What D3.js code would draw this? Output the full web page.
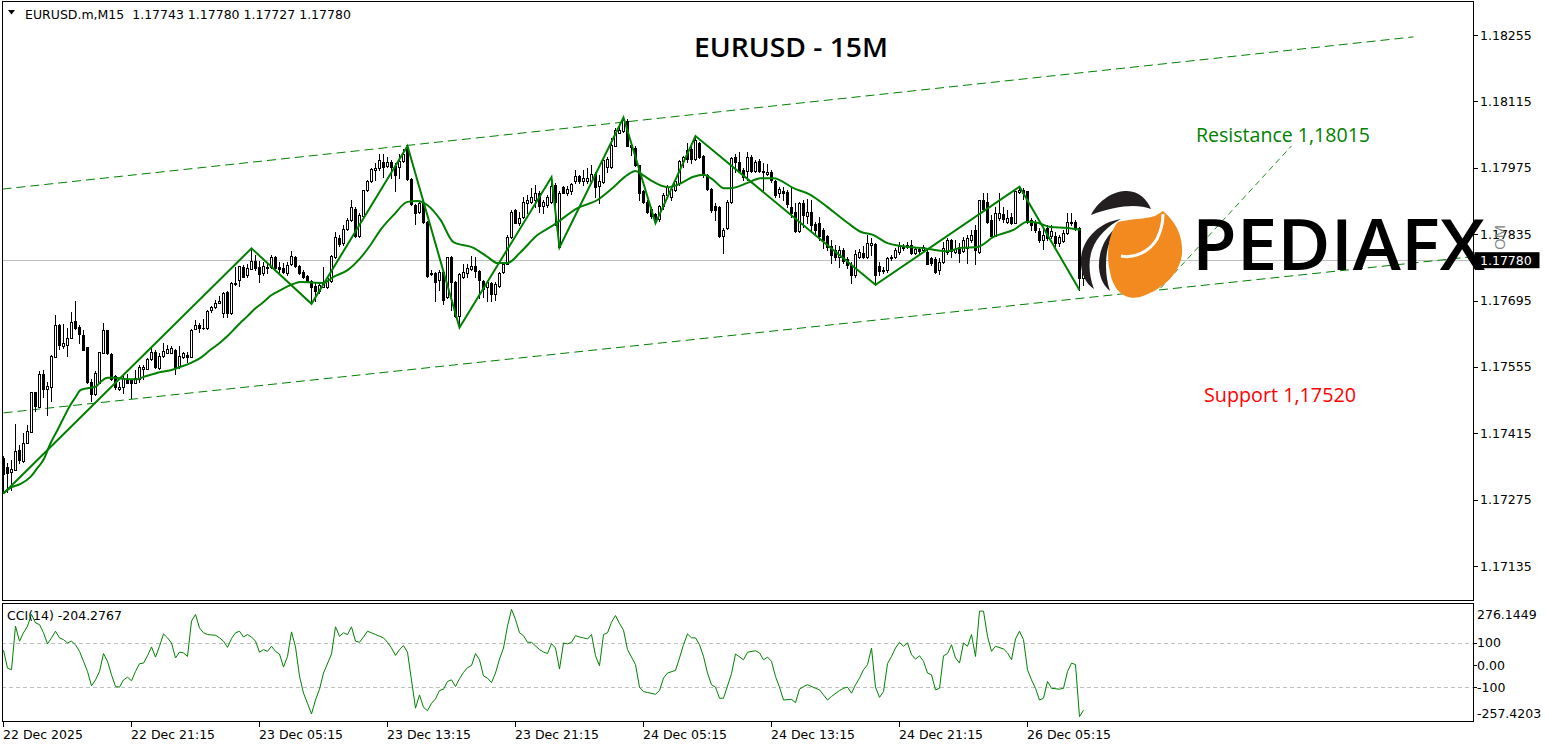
<!DOCTYPE html>
<html><head><meta charset="utf-8">
<script src="https://cdnjs.cloudflare.com/ajax/libs/d3/7.8.5/d3.min.js"></script>
<style>html,body{margin:0;padding:0;background:#fff;overflow:hidden}</style>
</head><body>
<svg id="c" width="1545" height="749"></svg>
<script>
// ---------- DATA (EURUSD.m M15) ----------
const opens=[1.17362,1.17343,1.17334,1.17338,1.17380,1.17357,1.17394,1.17418,1.17501,1.17471,
1.17540,1.17508,1.17513,1.17575,1.17643,1.17599,1.17601,1.17615,1.17652,1.17640,
1.17622,1.17596,1.17524,1.17498,1.17522,1.17585,1.17633,1.17582,1.17536,1.17508,
1.17513,1.17529,1.17527,1.17522,1.17529,1.17550,1.17550,1.17572,1.17587,1.17552,
1.17577,1.17585,1.17585,1.17590,1.17557,1.17575,1.17579,1.17576,1.17634,1.17643,
1.17638,1.17636,1.17674,1.17681,1.17690,1.17668,1.17713,1.17668,1.17730,1.17738,
1.17766,1.17749,1.17761,1.17778,1.17766,1.17752,1.17763,1.17765,1.17787,1.17766,
1.17764,1.17752,1.17771,1.17787,1.17768,1.17756,1.17747,1.17737,1.17726,1.17714,
1.17724,1.17724,1.17737,1.17786,1.17826,1.17816,1.17845,1.17865,1.17889,1.17830,
1.17873,1.17928,1.17946,1.17970,1.17974,1.17988,1.17979,1.17988,1.17979,1.17976,
1.17990,1.18016,1.17951,1.17896,1.17882,1.17901,1.17861,1.17751,1.17754,1.17738,
1.17756,1.17703,1.17787,1.17735,1.17662,1.17745,1.17754,1.17761,1.17768,1.17758,
1.17737,1.17723,1.17731,1.17709,1.17726,1.17756,1.17773,1.17828,1.17886,1.17859,
1.17872,1.17901,1.17903,1.17907,1.17921,1.17894,1.17896,1.17903,1.17939,1.17808,
1.17934,1.17921,1.17927,1.17946,1.17958,1.17947,1.17948,1.17948,1.17962,1.17937,
1.17944,1.17977,1.17977,1.18021,1.18049,1.18053,1.18074,1.18023,1.18016,1.17981,
1.17927,1.17903,1.17889,1.17877,1.17866,1.17894,1.17918,1.17914,1.17928,1.17942,
1.17989,1.18012,1.18014,1.17993,1.18027,1.18000,1.17960,1.17930,1.17894,1.17893,
1.17831,1.17847,1.17903,1.17997,1.17988,1.17970,1.17969,1.17997,1.17969,1.17990,
1.17969,1.17962,1.17966,1.17948,1.17921,1.17927,1.17923,1.17893,1.17882,1.17842,
1.17900,1.17873,1.17882,1.17856,1.17858,1.17844,1.17830,1.17810,1.17802,1.17787,
1.17802,1.17782,1.17770,1.17749,1.17787,1.17796,1.17787,1.17812,1.17814,1.17768,
1.17758,1.17759,1.17784,1.17787,1.17798,1.17810,1.17807,1.17812,1.17796,1.17803,
1.17802,1.17798,1.17784,1.17782,1.17759,1.17777,1.17798,1.17823,1.17798,1.17807,
1.17800,1.17805,1.17823,1.17844,1.17798,1.17907,1.17903,1.17865,1.17831,1.17868,
1.17877,1.17861,1.17872,1.17859,1.17924,1.17928,1.17925,1.17865,1.17861,1.17842,
1.17823,1.17847,1.17830,1.17830,1.17816,1.17821,1.17838,1.17861,1.17861,1.17847,
1.17743];
const highs=[1.17366,1.17352,1.17358,1.17434,1.17390,1.17415,1.17432,1.17503,1.17503,1.17547,
1.17548,1.17524,1.17580,1.17664,1.17645,1.17645,1.17636,1.17671,1.17694,1.17643,
1.17633,1.17596,1.17529,1.17547,1.17587,1.17647,1.17633,1.17585,1.17538,1.17524,
1.17541,1.17541,1.17529,1.17548,1.17559,1.17559,1.17573,1.17594,1.17591,1.17585,
1.17605,1.17601,1.17598,1.17592,1.17599,1.17587,1.17587,1.17634,1.17654,1.17647,
1.17657,1.17675,1.17683,1.17696,1.17705,1.17712,1.17714,1.17733,1.17765,1.17768,
1.17770,1.17773,1.17805,1.17791,1.17779,1.17777,1.17777,1.17791,1.17789,1.17777,
1.17775,1.17777,1.17800,1.17789,1.17770,1.17759,1.17749,1.17738,1.17731,1.17731,
1.17766,1.17745,1.17791,1.17840,1.17833,1.17854,1.17870,1.17906,1.17893,1.17879,
1.17929,1.17949,1.17974,1.17984,1.18004,1.18004,1.17998,1.17991,1.17984,1.18005,
1.18014,1.18021,1.17953,1.17899,1.17903,1.17903,1.17863,1.17759,1.17756,1.17759,
1.17759,1.17787,1.17789,1.17737,1.17754,1.17773,1.17773,1.17789,1.17787,1.17759,
1.17738,1.17735,1.17735,1.17735,1.17756,1.17777,1.17833,1.17886,1.17887,1.17882,
1.17914,1.17917,1.17932,1.17939,1.17925,1.17907,1.17918,1.17955,1.17942,1.17925,
1.17937,1.17937,1.17942,1.17970,1.17960,1.17970,1.17974,1.17981,1.17967,1.17960,
1.17995,1.17998,1.18037,1.18058,1.18067,1.18081,1.18077,1.18027,1.18020,1.17981,
1.17928,1.17907,1.17892,1.17879,1.17896,1.17921,1.17939,1.17932,1.17949,1.17991,
1.18000,1.18027,1.18027,1.18042,1.18030,1.18002,1.17962,1.17932,1.17900,1.17894,
1.17847,1.17906,1.17997,1.18005,1.18009,1.17974,1.18009,1.18002,1.17991,1.17993,
1.17984,1.17983,1.17970,1.17950,1.17934,1.17935,1.17928,1.17935,1.17900,1.17903,
1.17907,1.17910,1.17907,1.17861,1.17872,1.17847,1.17833,1.17823,1.17812,1.17810,
1.17805,1.17787,1.17777,1.17802,1.17803,1.17809,1.17833,1.17826,1.17816,1.17777,
1.17766,1.17787,1.17791,1.17805,1.17819,1.17814,1.17819,1.17823,1.17807,1.17805,
1.17812,1.17802,1.17787,1.17787,1.17784,1.17819,1.17826,1.17824,1.17823,1.17816,
1.17828,1.17833,1.17844,1.17854,1.17908,1.17921,1.17921,1.17875,1.17893,1.17921,
1.17893,1.17886,1.17879,1.17927,1.17935,1.17932,1.17927,1.17868,1.17865,1.17847,
1.17847,1.17854,1.17854,1.17840,1.17833,1.17844,1.17879,1.17879,1.17865,1.17850,
1.17780];
const lows=[1.17288,1.17292,1.17295,1.17338,1.17352,1.17355,1.17394,1.17418,1.17461,1.17471,
1.17492,1.17454,1.17484,1.17575,1.17592,1.17594,1.17577,1.17615,1.17634,1.17606,
1.17591,1.17520,1.17482,1.17496,1.17520,1.17585,1.17582,1.17527,1.17508,1.17506,
1.17499,1.17520,1.17489,1.17520,1.17524,1.17529,1.17550,1.17570,1.17552,1.17550,
1.17575,1.17584,1.17584,1.17540,1.17552,1.17573,1.17566,1.17576,1.17634,1.17629,
1.17634,1.17634,1.17671,1.17679,1.17689,1.17660,1.17660,1.17667,1.17728,1.17726,
1.17745,1.17745,1.17761,1.17759,1.17733,1.17749,1.17752,1.17763,1.17759,1.17756,
1.17752,1.17749,1.17770,1.17766,1.17751,1.17742,1.17735,1.17688,1.17695,1.17710,
1.17723,1.17721,1.17734,1.17784,1.17809,1.17812,1.17844,1.17862,1.17828,1.17828,
1.17872,1.17927,1.17944,1.17949,1.17970,1.17956,1.17976,1.17953,1.17925,1.17953,
1.17988,1.17949,1.17896,1.17856,1.17880,1.17858,1.17745,1.17749,1.17693,1.17717,
1.17688,1.17700,1.17675,1.17661,1.17638,1.17742,1.17745,1.17759,1.17745,1.17700,
1.17703,1.17693,1.17693,1.17696,1.17724,1.17754,1.17772,1.17826,1.17858,1.17854,
1.17870,1.17880,1.17900,1.17893,1.17882,1.17879,1.17893,1.17901,1.17854,1.17807,
1.17921,1.17918,1.17920,1.17942,1.17942,1.17939,1.17942,1.17942,1.17914,1.17900,
1.17942,1.17967,1.17974,1.18020,1.18048,1.18051,1.18020,1.18002,1.17979,1.17907,
1.17900,1.17879,1.17868,1.17858,1.17863,1.17889,1.17914,1.17907,1.17927,1.17939,
1.17977,1.17988,1.17984,1.17991,1.17995,1.17956,1.17928,1.17882,1.17865,1.17828,
1.17796,1.17845,1.17901,1.17967,1.17967,1.17949,1.17949,1.17967,1.17965,1.17967,
1.17928,1.17960,1.17945,1.17914,1.17914,1.17907,1.17893,1.17872,1.17840,1.17840,
1.17851,1.17858,1.17840,1.17833,1.17823,1.17805,1.17802,1.17775,1.17780,1.17766,
1.17775,1.17763,1.17731,1.17745,1.17784,1.17784,1.17784,1.17791,1.17728,1.17749,
1.17752,1.17756,1.17780,1.17784,1.17794,1.17802,1.17805,1.17794,1.17794,1.17796,
1.17798,1.17772,1.17770,1.17754,1.17751,1.17775,1.17794,1.17787,1.17796,1.17777,
1.17798,1.17775,1.17819,1.17772,1.17796,1.17886,1.17859,1.17830,1.17830,1.17865,
1.17861,1.17858,1.17856,1.17858,1.17921,1.17910,1.17858,1.17844,1.17840,1.17819,
1.17803,1.17823,1.17826,1.17810,1.17810,1.17819,1.17835,1.17854,1.17844,1.17717,
1.17727];
const closes=[1.17330,1.17332,1.17339,1.17378,1.17359,1.17394,1.17420,1.17501,1.17473,1.17540,
1.17508,1.17515,1.17577,1.17643,1.17601,1.17605,1.17615,1.17649,1.17638,1.17624,
1.17591,1.17523,1.17498,1.17543,1.17586,1.17633,1.17584,1.17529,1.17513,1.17513,
1.17531,1.17522,1.17520,1.17532,1.17554,1.17555,1.17572,1.17586,1.17555,1.17578,
1.17589,1.17593,1.17595,1.17555,1.17577,1.17584,1.17575,1.17633,1.17643,1.17636,
1.17636,1.17673,1.17681,1.17689,1.17693,1.17710,1.17668,1.17731,1.17731,1.17768,
1.17745,1.17763,1.17778,1.17763,1.17750,1.17768,1.17766,1.17787,1.17763,1.17761,
1.17756,1.17770,1.17789,1.17768,1.17752,1.17745,1.17737,1.17724,1.17714,1.17728,
1.17735,1.17742,1.17789,1.17828,1.17814,1.17845,1.17865,1.17892,1.17830,1.17875,
1.17928,1.17946,1.17972,1.17974,1.17991,1.17977,1.17988,1.17977,1.17960,1.17990,
1.18005,1.17951,1.17899,1.17880,1.17901,1.17861,1.17747,1.17754,1.17735,1.17756,
1.17696,1.17786,1.17733,1.17662,1.17751,1.17756,1.17763,1.17768,1.17758,1.17738,
1.17719,1.17733,1.17709,1.17730,1.17754,1.17773,1.17828,1.17882,1.17859,1.17870,
1.17903,1.17906,1.17914,1.17922,1.17894,1.17903,1.17914,1.17937,1.17903,1.17922,
1.17922,1.17930,1.17941,1.17958,1.17948,1.17954,1.17953,1.17962,1.17935,1.17948,
1.17991,1.17993,1.18024,1.18055,1.18055,1.18076,1.18021,1.18018,1.17981,1.17921,
1.17903,1.17882,1.17873,1.17863,1.17894,1.17918,1.17935,1.17930,1.17946,1.17989,
1.17998,1.17993,1.17993,1.18034,1.17997,1.17960,1.17930,1.17885,1.17885,1.17830,
1.17844,1.17903,1.17995,1.17988,1.17969,1.17955,1.17997,1.17969,1.17988,1.17969,
1.17965,1.17967,1.17950,1.17918,1.17930,1.17921,1.17898,1.17879,1.17842,1.17900,
1.17875,1.17882,1.17854,1.17844,1.17830,1.17823,1.17807,1.17791,1.17786,1.17802,
1.17779,1.17770,1.17749,1.17794,1.17798,1.17787,1.17816,1.17816,1.17749,1.17758,
1.17759,1.17784,1.17787,1.17802,1.17811,1.17805,1.17812,1.17796,1.17803,1.17800,
1.17807,1.17773,1.17775,1.17756,1.17777,1.17805,1.17823,1.17800,1.17803,1.17796,
1.17823,1.17826,1.17833,1.17802,1.17907,1.17889,1.17861,1.17831,1.17879,1.17880,
1.17866,1.17870,1.17858,1.17925,1.17929,1.17921,1.17861,1.17854,1.17844,1.17823,
1.17833,1.17826,1.17842,1.17816,1.17828,1.17838,1.17861,1.17858,1.17847,1.17743,
1.17780];

// moving average (bar position, price)
const maBars=[0,1.75,4.25,6.75,8.5,10,11.75,13.5,15,16.75,18,19.25,21,23,24.25,26,28,31,33.5,35,37.5,39.25,41.75,44.25,46.75,49.25,51.75,54.25,56,57.5,59.25,61,62.5,65,66.75,69.25,72.5,74.25,80,82.5,86,89.25,91.75,94.25,97.5,101,103.5,106,109.25,112.5,117.5,121,123.5,126,129.25,133.5,137.5,143.5,148.5,152.5,156,158,159.75,162.5,166,168.5,172.5,175,177.5,180,181.75,186,189.25,192.5,197.5,201.75,206,211,214.25,217.5,221,224.25,229.25,232.5,236,239.25,243.5,247.5,252.5,256,258.5,261.75,266,269.25];
const maValues=[1.17289,1.17300,1.17308,1.17323,1.17342,1.17359,1.17394,1.17422,1.17447,1.17475,1.17491,1.17506,1.17510,1.17513,1.17523,1.17532,1.17532,1.17529,1.17529,1.17534,1.17540,1.17544,1.17548,1.17555,1.17563,1.17574,1.17591,1.17607,1.17620,1.17633,1.17648,1.17662,1.17675,1.17692,1.17705,1.17717,1.17730,1.17734,1.17732,1.17745,1.17759,1.17785,1.17812,1.17844,1.17875,1.17903,1.17905,1.17896,1.17865,1.17818,1.17806,1.17787,1.17774,1.17774,1.17797,1.17833,1.17854,1.17890,1.17907,1.17934,1.17960,1.17968,1.17960,1.17945,1.17934,1.17939,1.17956,1.17960,1.17949,1.17932,1.17932,1.17943,1.17953,1.17953,1.17932,1.17918,1.17892,1.17859,1.17840,1.17833,1.17816,1.17810,1.17806,1.17802,1.17799,1.17806,1.17808,1.17829,1.17844,1.17861,1.17859,1.17850,1.17848,1.17844];

// zigzag pivots
const zzBars=[0,62,77,101,114,137,139,155,163,173,218,254,269];
const zzPrices=[1.17288,1.17805,1.17688,1.18021,1.17638,1.17955,1.17807,1.18081,1.17858,1.18042,1.17728,1.17935,1.17717];

// CCI(14)
const cciBars=[0,1,2,3,4,5,6,7,8,9,10,11,12,13,14,15,16,17,18,19,20,21,22,23,24,25,26,27,28,29,30,31,32,33,34,35,36,37,38,39,40,41,42,43,44,45,46,47,48,49,50,51,52,53,54,55,56,57,58,59,60,61,62,63,64,65,66,67,68,69,70,71,72,73,74,75,76,77,78,79,80,82,83,84,85,86,87,88,89,90,91,92,93,95,96,97,98,99,100,101,103,104,105,106,107,108,109,110,111,112,113,114,115,116,117,118,119,120,121,122,123,124,125,126,127,128,129,130,131,132,134,135,136,137,138,139,140,141,142,143,144,145,146,147,148,149,150,151,152,153,154,155,156,158,159,160,161,163,164,165,166,168,169,170,171,172,173,174,175,176,177,178,179,180,182,183,185,186,188,189,190,191,192,193,194,195,197,198,199,200,201,203,204,205,206,207,209,210,211,212,213,214,215,216,217,218,219,220,221,222,223,224,225,226,227,228,229,230,231,232,233,234,235,236,237,238,239,240,241,242,243,244,245,246,247,248,250,251,252,253,254,255,256,257,258,259,260,261,262,264,265,266,267,268,269,270];
const cciValues=[67,-14,-21,176,108,146,176,229,191,183,146,96,123,153,123,115,100,108,92,62,17,-29,-94,-67,-29,52,17,-44,-97,-100,-67,-55,-71,-29,6,9,42,82,36,85,141,123,100,32,59,55,39,199,229,168,146,138,136,135,123,108,80,120,146,153,127,138,127,108,58,70,62,85,62,50,-9,39,150,82,-50,-127,-173,-221,-158,-109,-36,50,173,130,146,138,173,108,103,127,153,146,138,123,103,77,44,70,88,58,-195,-135,-191,-206,-173,-153,-115,-109,-74,-67,-97,-62,-33,-12,-2,52,24,-49,-59,-79,-36,27,77,176,252,206,146,133,103,103,70,59,52,97,77,-18,100,96,103,133,127,123,118,138,42,-3,138,146,194,224,188,158,70,2,-100,-120,-124,-132,-115,-59,-36,-24,32,92,141,123,123,92,39,-36,-89,-100,-150,-150,-39,50,24,58,65,55,24,36,17,-52,-100,-158,-155,-170,-109,-97,-89,-105,-112,-135,-158,-142,-115,-105,-100,-127,-89,-59,-21,2,77,-100,-146,-120,6,39,77,103,85,100,47,27,42,17,-36,-44,-112,-105,42,52,92,32,9,100,85,138,39,244,244,130,62,85,73,55,24,118,153,115,-21,-67,-105,-158,-150,-74,-105,-109,-105,-29,9,2,-233,-204.2767];

// trend channel and drawn line (bar position, price)
const upperBars=[-0.25,352.5], upperPrices=[1.17930,1.18251];
const lowerBars=[0,366.75],   lowerPrices=[1.17458,1.17787];
const leaderBars=[289.25,322], leaderPrices=[1.17721,1.18021];

const priceTicks=[1.18255,1.18115,1.17975,1.17835,1.17695,1.17555,1.17415,1.17275,1.17135];
const cciTicks=[276.1449,100,0,-100,-257.4203];
const cciTickLabels=["276.1449","100","0.00","-100","-257.4203"];
const timeBars=[0,32,64,96,128,160,192,224,256];
const timeLabels=["22 Dec 2025","22 Dec 21:15","23 Dec 05:15","23 Dec 13:15","23 Dec 21:15","24 Dec 05:15","24 Dec 13:15","24 Dec 21:15","26 Dec 05:15"];
const lastPrice=1.17780;

// ---------- LAYOUT ----------
const L=2, R=1473.5, T=1.5, MB=600.5, CT=603.5, CB=721.5;
const svg=d3.select('#c');
const GREEN='#008000';
const AX_FONT='"DejaVu Sans", sans-serif';
const AX_SIZE=12.5;

const xs=d3.scaleLinear().domain([0,270]).range([3,1083]);   // pixel column of bar
const y=d3.scaleLinear().domain([1.17135,1.18255]).range([566,35]);
const yc=d3.scaleLinear().domain([-257.4203,276.1449]).range([722,604]);

const defs=svg.append('defs');
defs.append('clipPath').attr('id','mclip').append('rect').attr('x',L+0.5).attr('y',T+0.5).attr('width',R-L-1).attr('height',MB-T-1);
defs.append('clipPath').attr('id','cclip').append('rect').attr('x',L+0.5).attr('y',CT+0.5).attr('width',R-L-1).attr('height',CB-CT-1);

svg.append('rect').attr('width',1545).attr('height',749).attr('fill','#fff');

const main=svg.append('g').attr('clip-path','url(#mclip)');

// current price line
main.append('line').attr('x1',L).attr('x2',R).attr('y1',Math.round(y(lastPrice))+0.5).attr('y2',Math.round(y(lastPrice))+0.5)
  .attr('stroke','#c0c0c0').attr('stroke-width',1).attr('shape-rendering','crispEdges');

// channel lines
const chanLine=(bs,ps)=>d3.line().x(d=>xs(d[0])+0.5).y(d=>y(d[1]))(bs.map((b,i)=>[b,ps[i]]));
main.append('path').attr('d',chanLine(upperBars,upperPrices)).attr('fill','none').attr('stroke',GREEN).attr('stroke-width',1).attr('stroke-dasharray','9,5');
main.append('path').attr('d',chanLine(lowerBars,lowerPrices)).attr('fill','none').attr('stroke',GREEN).attr('stroke-width',1).attr('stroke-dasharray','9,5');
main.append('path').attr('d',chanLine(leaderBars,leaderPrices)).attr('fill','none').attr('stroke',GREEN).attr('stroke-width',0.9).attr('stroke-dasharray','6,4');

// candles
const bars=d3.range(opens.length);
const cg=main.append('g').attr('shape-rendering','crispEdges');
cg.selectAll('line.w').data(bars).join('line').attr('class','w')
  .attr('x1',i=>xs(i)+0.5).attr('x2',i=>xs(i)+0.5)
  .attr('y1',i=>Math.round(y(highs[i]))).attr('y2',i=>Math.round(y(lows[i]))+1)
  .attr('stroke','#000').attr('stroke-width',1);
cg.selectAll('rect.b').data(bars).join('rect').attr('class','b')
  .each(function(i){
    const top=Math.round(y(Math.max(opens[i],closes[i])));
    const bot=Math.round(y(Math.min(opens[i],closes[i])));
    const s=d3.select(this);
    if(closes[i]>=opens[i]){
      s.attr('x',xs(i)-0.5).attr('y',top+0.5).attr('width',2).attr('height',Math.max(bot-top,0))
       .attr('fill','#fff').attr('stroke','#000').attr('stroke-width',1);
    } else {
      s.attr('x',xs(i)-1).attr('y',top).attr('width',3).attr('height',Math.max(bot-top+1,1)).attr('fill','#000');
    }
  });

// moving average
main.append('path').datum(maBars.map((b,i)=>[b,maValues[i]]))
  .attr('d',d3.line().x(d=>xs(d[0])+0.5).y(d=>y(d[1])).curve(d3.curveMonotoneX))
  .attr('fill','none').attr('stroke',GREEN).attr('stroke-width',2);
// zigzag
main.append('path').datum(zzBars.map((b,i)=>[b,zzPrices[i]]))
  .attr('d',d3.line().x(d=>xs(d[0])+0.5).y(d=>y(d[1])))
  .attr('fill','none').attr('stroke',GREEN).attr('stroke-width',2);

// CCI pane
const cp=svg.append('g').attr('clip-path','url(#cclip)');
[100,-100].forEach(v=>{
  cp.append('line').attr('x1',L).attr('x2',R).attr('y1',Math.round(yc(v))+0.5).attr('y2',Math.round(yc(v))+0.5)
   .attr('stroke','#c0c0c0').attr('stroke-dasharray','4,3').attr('shape-rendering','crispEdges');
});
cp.append('path').datum(cciBars.map((b,i)=>[b,cciValues[i]]))
  .attr('d',d3.line().x(d=>xs(d[0])+0.5).y(d=>yc(d[1])))
  .attr('fill','none').attr('stroke',GREEN).attr('stroke-width',1);

// frames
const fr=svg.append('g').attr('fill','none').attr('stroke','#000').attr('stroke-width',1).attr('shape-rendering','crispEdges');
fr.append('rect').attr('x',L+0.5).attr('y',T).attr('width',R-L-0.5).attr('height',MB-T);
fr.append('rect').attr('x',L+0.5).attr('y',CT).attr('width',R-L-0.5).attr('height',CB-CT);

// price axis
const pa=svg.append('g').attr('font-family',AX_FONT).attr('font-size',AX_SIZE).attr('fill','#000');
priceTicks.forEach(p=>{
  const yy=Math.round(y(p))+0.5;
  pa.append('line').attr('x1',R).attr('x2',R+4).attr('y1',yy).attr('y2',yy).attr('stroke','#000').attr('shape-rendering','crispEdges');
  pa.append('text').attr('x',1480).attr('y',y(p)+4.5).text(p.toFixed(5));
});
// current price tag
const ly=y(lastPrice);
svg.append('rect').attr('x',R+1).attr('y',ly-8).attr('width',65).attr('height',16).attr('fill','#000');
svg.append('text').attr('x',1480).attr('y',ly+4.5).attr('font-family',AX_FONT).attr('font-size',AX_SIZE).attr('fill','#fff').text(lastPrice.toFixed(5));

// CCI axis
const ca=svg.append('g').attr('font-family',AX_FONT).attr('font-size',AX_SIZE).attr('fill','#000');
cciTicks.forEach((v,i)=>{
  let yy=yc(v);
  if(i===0) yy=614; if(i===4) yy=713;
  if(i>0&&i<4) ca.append('line').attr('x1',R).attr('x2',R+3).attr('y1',Math.round(yc(v))+0.5).attr('y2',Math.round(yc(v))+0.5).attr('stroke','#000').attr('shape-rendering','crispEdges');
  ca.append('text').attr('x',1477).attr('y',yy+4.5).text(cciTickLabels[i]);
});

// time axis
const ta=svg.append('g').attr('font-family',AX_FONT).attr('font-size',AX_SIZE).attr('fill','#000');
timeBars.forEach((b,i)=>{
  const xx=xs(b)+0.5;
  ta.append('line').attr('x1',xx).attr('x2',xx).attr('y1',CB).attr('y2',CB+5).attr('stroke','#000').attr('shape-rendering','crispEdges');
  ta.append('text').attr('x',xs(b)).attr('y',739).text(timeLabels[i]);
});

// header texts
svg.append('path').attr('d','M8,10 L15,10 L11.5,14.5 Z').attr('fill','#000');
svg.append('text').attr('x',25).attr('y',18.5).attr('font-family',AX_FONT).attr('font-size',AX_SIZE).attr('fill','#000')
  .text('EURUSD.m,M15  1.17743 1.17780 1.17727 1.17780').attr('xml:space','preserve').style('white-space','pre');
svg.append('text').attr('x',7).attr('y',619.5).attr('font-family',AX_FONT).attr('font-size',AX_SIZE).attr('fill','#000').text('CCI(14) -204.2767');

// title & annotations
const ANN='"Open Sans", sans-serif';
svg.append('text').attr('x',694).attr('y',57).attr('font-family',ANN).attr('font-size',27).attr('font-weight',600)
  .attr('textLength',194).attr('lengthAdjust','spacingAndGlyphs').attr('fill','#000').text('EURUSD - 15M');
svg.append('text').attr('x',1196).attr('y',142).attr('font-family',ANN).attr('font-size',19.5).attr('font-weight',500)
  .attr('textLength',174).attr('lengthAdjust','spacingAndGlyphs').attr('fill','#008000').text('Resistance 1,18015');
svg.append('text').attr('x',1204).attr('y',402).attr('font-family',ANN).attr('font-size',19.5).attr('font-weight',500)
  .attr('textLength',152).attr('lengthAdjust','spacingAndGlyphs').attr('fill','#ff0000').text('Support 1,17520');

// PEDIAFX watermark logo
const lg=svg.append('g');
lg.append('path').attr('d','M1091,215 C1097,203 1110,192 1125,191 C1138,190 1147,199 1151,209 C1138,204 1117,205 1091,215 Z').attr('fill','#231f20');
lg.append('path').attr('d','M1121,219 C1100,222 1083,238 1081,258 C1080,272 1085,283 1094,289 C1089,276 1088,262 1092,250 C1097,236 1108,226 1121,219 Z').attr('fill','#231f20');
lg.append('path').attr('d','M1118,226 C1105,236 1098,252 1099,268 C1100,279 1104,286 1110,291 C1106,279 1105,265 1107,252 C1109,242 1113,233 1118,226 Z').attr('fill','#231f20');
lg.append('path').attr('d','M1118,222 C1130,219 1146,219 1155,216 L1163,211 C1176,222 1183,236 1182,253 C1181,271 1165,289 1140,297 C1125,301 1113,290 1110,272 C1106,255 1108,234 1118,222 Z').attr('fill','#f28a1f');
lg.append('path').attr('d','M1121,256 C1135,259 1150,251 1157,239 C1161,231 1163,224 1163,214').attr('fill','none').attr('stroke','#fff').attr('stroke-width',3);
lg.append('text').attr('x',1192).attr('y',270).attr('font-family',ANN).attr('font-size',70).attr('font-weight',600)
  .attr('textLength',293).attr('lengthAdjust','spacingAndGlyphs').attr('fill','#000').text('PEDIAFX');
lg.append('text').attr('transform','translate(1505,250) rotate(-90)').attr('font-family',ANN).attr('font-size',15).attr('fill','#808080').text('OM');
</script>
</body></html>
